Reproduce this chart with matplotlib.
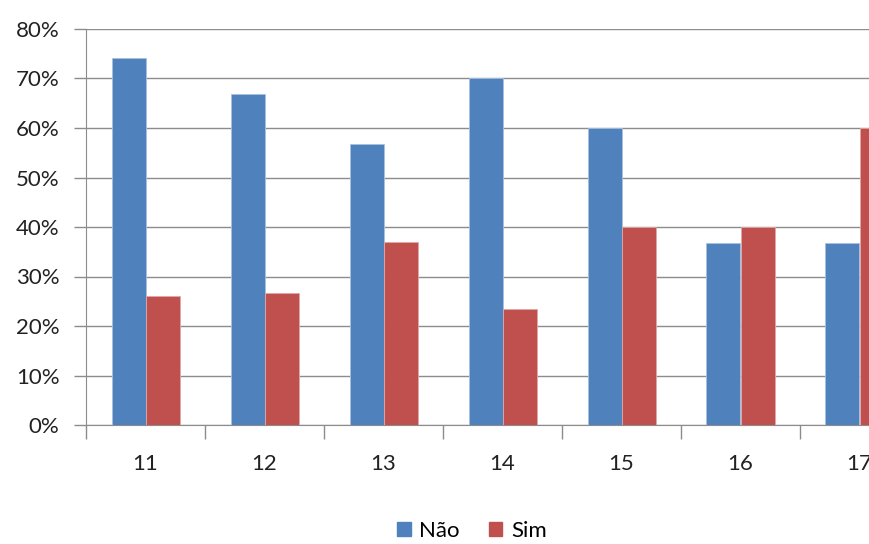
import matplotlib.pyplot as plt
import numpy as np
from matplotlib.patches import Patch
from matplotlib.ticker import PercentFormatter

# dados do gráfico
categorias = ['11', '12', '13', '14', '15', '16', '17']
nao = [74.1, 66.9, 56.8, 70.1, 60.1, 36.8, 36.8]
sim = [26.0, 26.7, 37.0, 23.4, 40.0, 40.0, 60.0]

plt.rcParams['font.family'] = ['Lato', 'DejaVu Sans']

azul = '#4F81BD'
vermelho = '#C0504D'
cinza = '#8C8C8C'

fig = plt.figure(figsize=(8.69, 5.44), dpi=100)
# o gráfico original está cortado à direita
ax = fig.add_axes([86 / 869, 119 / 544, 833 / 869, 396 / 544])

x = np.arange(len(categorias))
w = 34 / 119
ax.bar(x - w / 2, np.array(nao) / 100, w, color=azul, edgecolor='#A9C1E0', linewidth=0.6, zorder=3)
ax.bar(x + w / 2, np.array(sim) / 100, w, color=vermelho, edgecolor='#E0A9A8', linewidth=0.6, zorder=3)

ax.set_xlim(-0.5, len(categorias) - 0.5)
ax.set_ylim(0, 0.8)
ax.set_yticks(np.arange(0, 0.81, 0.1))
ax.yaxis.set_major_formatter(PercentFormatter(1.0, decimals=0))
ax.yaxis.grid(True, color=cinza, linewidth=1.0, zorder=0)

# marcas entre categorias
ax.set_xticks(np.arange(-0.5, len(categorias), 1.0))
ax.set_xticklabels([])
ax.set_xticks(x, minor=True)
ax.set_xticklabels(categorias, minor=True)
ax.tick_params(axis='x', which='major', length=10, width=1, color=cinza, direction='out')
ax.tick_params(axis='x', which='minor', length=0, pad=21, labelsize=16, labelcolor='#222222')
ax.tick_params(axis='y', length=9, width=1, color=cinza, labelsize=16, labelcolor='#222222', pad=10)

for s in ['top', 'right']:
    ax.spines[s].set_visible(False)
ax.spines['left'].set_color(cinza)
ax.spines['bottom'].set_color(cinza)

handles = [Patch(color=azul, label='Não'), Patch(color=vermelho, label='Sim')]
fig.legend(handles=handles, loc='center', bbox_to_anchor=(472 / 869, 13 / 544), ncol=2,
           frameon=False, fontsize=16, handlelength=0.6, handleheight=0.6,
           handletextpad=0.4, columnspacing=1.3, borderpad=0.1)

fig.savefig('out.png', dpi=100)
